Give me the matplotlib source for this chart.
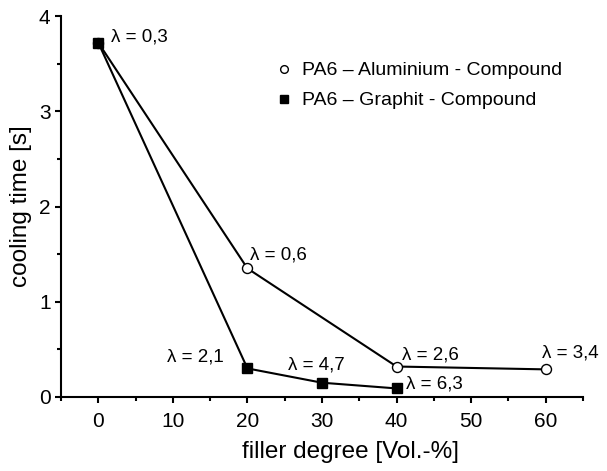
import matplotlib
matplotlib.use("Agg")
import matplotlib.pyplot as plt
from matplotlib.ticker import MultipleLocator

plt.rcParams['font.family'] = ['Liberation Sans', 'DejaVu Sans']

# data
alu_x = [0, 20, 40, 60]
alu_y = [3.72, 1.35, 0.32, 0.29]
alu_lam = ['λ = 0,3', 'λ = 0,6', 'λ = 2,6', 'λ = 3,4']

gra_x = [0, 20, 30, 40]
gra_y = [3.72, 0.30, 0.15, 0.09]
gra_lam = ['λ = 0,3', 'λ = 2,1', 'λ = 4,7', 'λ = 6,3']

fig = plt.figure(figsize=(6.07, 4.71), dpi=100)
ax = fig.add_axes([61 / 607, 74 / 471, 522 / 607, 381 / 471])

ax.plot(alu_x, alu_y, color='black', lw=1.5, marker='o', ms=7.2,
        mfc='white', mec='black', mew=1.0, label='PA6 – Aluminium - Compound', zorder=3)
ax.plot(gra_x, gra_y, color='black', lw=1.5, marker='s', ms=7.2,
        mfc='black', mec='black', label='PA6 – Graphit - Compound', zorder=4)

# lambda labels, offsets in points, centred vertically
fs = 13.5
def lam(txt, x, y, dx, dy, ha='left'):
    ax.annotate(txt, (x, y), xytext=(dx, dy), textcoords='offset points',
                ha=ha, va='center', fontsize=fs)

lam(alu_lam[0], alu_x[0], alu_y[0], 9.5, 4)
lam(alu_lam[1], alu_x[1], alu_y[1], 1.5, 9.5)
lam(alu_lam[2], alu_x[2], alu_y[2], 4, 8.5)
lam(alu_lam[3], alu_x[3], alu_y[3], -3, 12)
lam(gra_lam[1], gra_x[1], gra_y[1], -17, 8.5, ha='right')
lam(gra_lam[2], gra_x[2], gra_y[2], -4, 13, ha='center')
lam(gra_lam[3], gra_x[3], gra_y[3], 7, 3)

ax.set_xlim(-5, 65)
ax.set_ylim(0, 4)
ax.xaxis.set_major_locator(MultipleLocator(10))
ax.xaxis.set_minor_locator(MultipleLocator(5))
ax.yaxis.set_major_locator(MultipleLocator(1))
ax.yaxis.set_minor_locator(MultipleLocator(0.5))

for s in ['top', 'right']:
    ax.spines[s].set_visible(False)
for s in ['left', 'bottom']:
    ax.spines[s].set_linewidth(1.5)

ax.tick_params(which='major', direction='out', length=4.5, width=1.5, labelsize=15)
ax.tick_params(axis='x', which='major', pad=6)
ax.tick_params(axis='y', which='major', pad=3)
ax.tick_params(which='minor', direction='out', length=3, width=1.5)

ax.set_xlabel('filler degree [Vol.-%]', fontsize=17.5)
ax.set_ylabel('cooling time [s]', fontsize=17.5)
ax.xaxis.set_label_coords(0.554, -0.115)
ax.yaxis.set_label_coords(-0.056, 0.5)

leg = ax.legend(loc='upper left', bbox_to_anchor=(0.396, 0.9), frameon=False,
                fontsize=14, handlelength=0.9, handletextpad=0.47, labelspacing=0.63,
                markerscale=0.77, borderaxespad=0)
for h in leg.legend_handles:
    h.set_linestyle('none')

fig.savefig('out.png', dpi=100)
